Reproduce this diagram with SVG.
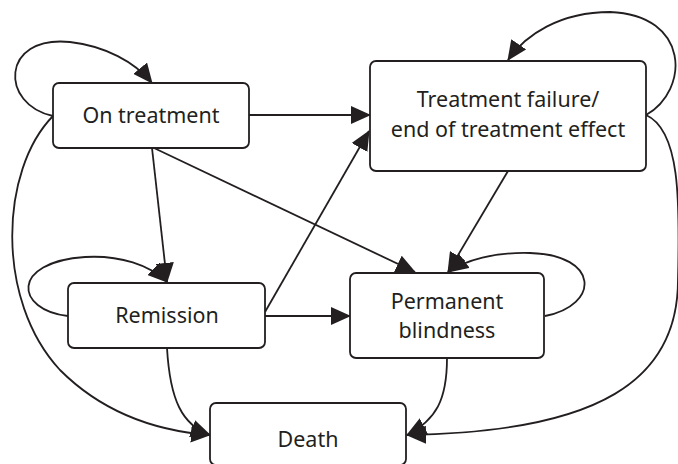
<svg xmlns="http://www.w3.org/2000/svg" width="678" height="464" viewBox="0 0 678 464">
<style>
.box{fill:#fff;stroke:#231f20;stroke-width:1.8}
.lbl{font-family:"Noto Sans","Open Sans",sans-serif;font-size:21.5px;fill:#231f20;text-anchor:middle}
.c{fill:none;stroke:#231f20;stroke-width:1.8;marker-end:url(#ah)}
</style>
<defs>
<marker id="ah" markerUnits="userSpaceOnUse" markerWidth="20" markerHeight="18" viewBox="0 0 20 18" refX="19" refY="9" orient="auto">
<path d="M0,0 L20,9 L0,18 z" fill="#231f20"/>
</marker>
</defs>
<rect width="678" height="464" fill="#fff"/>
<g id="connectors">
<path class="c" d="M53,116 C0,105 0,35 70,42 C105,46 135,62 152,83"/>
<path class="c" d="M249,115 L370,115"/>
<path class="c" d="M152,148 L167,282"/>
<path class="c" d="M154,148 L415,272"/>
<path class="c" d="M53,116 C0,170 -5,300 60,370 C110,420 170,432 210,435"/>
<path class="c" d="M68,316 C15,310 10,262 85,257 C120,255 150,265 167,282"/>
<path class="c" d="M265,312 L369,131"/>
<path class="c" d="M265,316 L350,316"/>
<path class="c" d="M167,348 C170,400 182,425 210,435"/>
<path class="c" d="M508,171 L448,272"/>
<path class="c" d="M646,115 C690,90 690,15 610,12 C560,12 525,35 508,60"/>
<path class="c" d="M646,115 C680,130 680,200 678,280 C678,380 600,432 407,435"/>
<path class="c" d="M545,316 C600,305 600,255 530,253 C495,252 465,260 449,272"/>
<path class="c" d="M447,358 C447,400 436,420 407,435"/>
</g>
<g id="on-treatment">
<rect class="box" x="53" y="83" width="196" height="65" rx="6"/>
<text class="lbl" x="151" y="123">On treatment</text>
</g>
<g id="treatment-failure">
<rect class="box" x="370" y="61" width="276" height="110" rx="6"/>
<text class="lbl" x="508" y="107">Treatment failure/</text>
<text class="lbl" x="508" y="136.5">end of treatment effect</text>
</g>
<g id="remission">
<rect class="box" x="68" y="283" width="197" height="65" rx="6"/>
<text class="lbl" x="167" y="323">Remission</text>
</g>
<g id="permanent-blindness">
<rect class="box" x="350" y="273" width="194" height="85" rx="6"/>
<text class="lbl" x="447" y="308.5">Permanent</text>
<text class="lbl" x="447" y="338">blindness</text>
</g>
<g id="death">
<rect class="box" x="210" y="403" width="196" height="62" rx="6"/>
<text class="lbl" x="308" y="447">Death</text>
</g>
</svg>
